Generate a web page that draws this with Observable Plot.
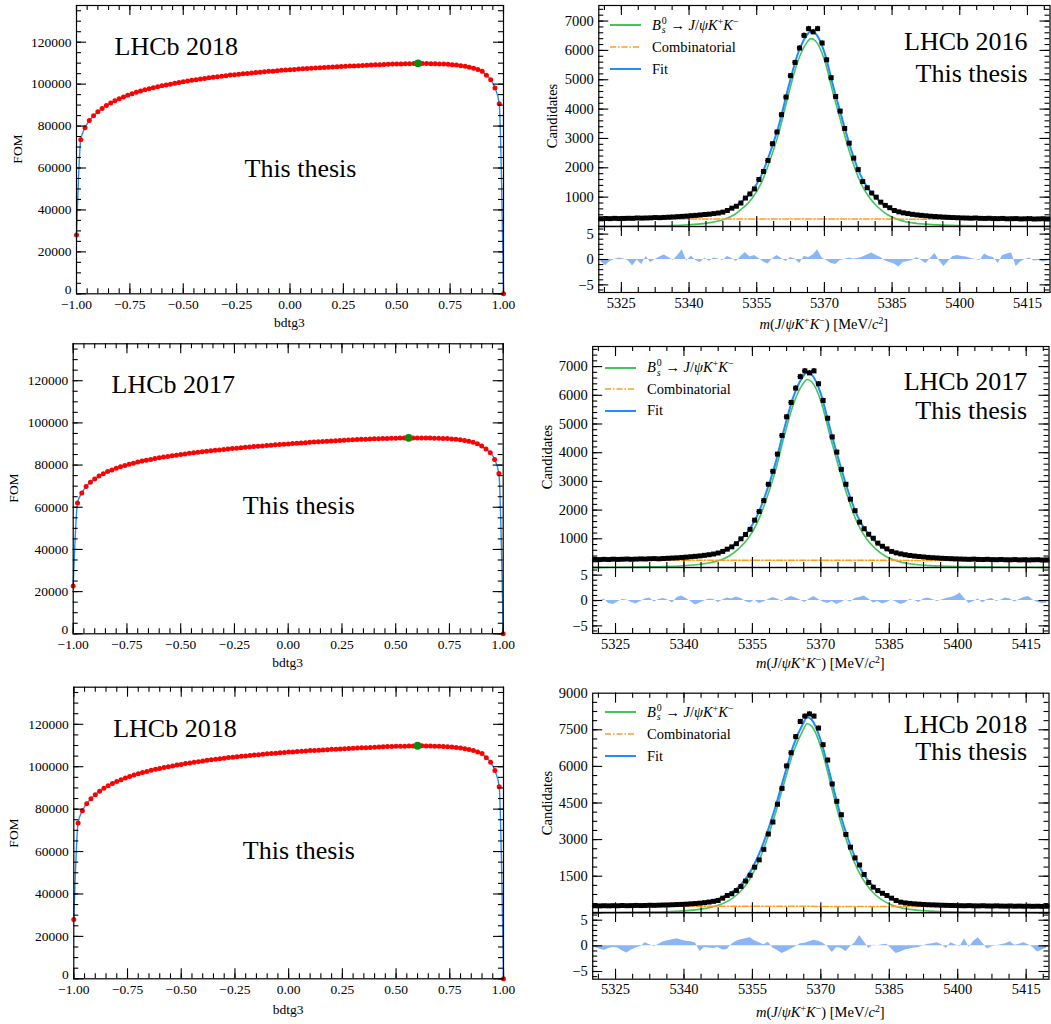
<!DOCTYPE html>
<html><head><meta charset="utf-8">
<script src="https://cdn.jsdelivr.net/npm/d3@7"></script>
<script src="https://cdn.jsdelivr.net/npm/@observablehq/plot@0.6"></script>
<style>
body{margin:0;background:#fff;}
#wrap{position:relative;width:1051px;height:1024px;overflow:hidden;background:#fff;font-family:"Liberation Serif",serif;color:#000;}
.box{position:absolute;}
.lab{position:absolute;white-space:nowrap;font-family:"Liberation Serif",serif;color:#000;line-height:1;}
.subsup{display:inline-block;font-size:0.68em;line-height:0.95;vertical-align:-0.32em;text-align:left;margin-left:1px;}
.subsup span{display:block;}
.sp{font-size:0.68em;vertical-align:0.5em;line-height:0;}
</style>
</head><body><div id="wrap"></div>
<script>
// ---------------- DATA ----------------
// BDT cut scan: cut values from -1.00 to 1.00 in steps of 0.02
const cutStart = -1.0, cutStep = 0.02;
const fom2018 = [28000,73500,79200,82600,84900,86800,88400,89800,91000,92100,
  93000,93900,94700,95400,96100,96700,97300,97800,98300,98800,
  99200,99600,100000,100400,100800,101100,101500,101800,102100,102400,
  102700,103000,103300,103500,103800,104000,104300,104500,104700,104900,
  105100,105300,105500,105700,105900,106100,106200,106400,106600,106700,
  106900,107000,107200,107300,107400,107600,107700,107800,107900,108000,
  108200,108300,108400,108500,108600,108700,108800,108900,109000,109100,
  109200,109300,109400,109500,109550,109600,109650,109700,109750,109800,
  109900,109850,109800,109750,109700,109650,109550,109450,109300,109100,
  108800,108500,108100,107600,107000,106200,104200,102100,98200,90600,0];
const fom2017 = [22700,62000,66800,69800,71800,73400,74800,75900,76900,77700,
  78500,79200,79800,80400,80900,81400,81900,82300,82700,83100,
  83500,83800,84100,84400,84700,85000,85300,85600,85800,86100,
  86300,86600,86800,87000,87200,87400,87600,87800,88000,88200,
  88400,88600,88800,88900,89100,89300,89400,89600,89700,89900,
  90000,90200,90300,90500,90600,90800,90900,91000,91200,91300,
  91400,91500,91600,91800,91900,92000,92100,92200,92300,92400,
  92450,92500,92600,92650,92700,92750,92800,92850,92900,92850,
  92850,92850,92800,92800,92750,92700,92650,92550,92400,92200,
  92000,91700,91300,90800,90100,89000,87600,85900,82700,76000,0];

// Mass fits: 100 bins of 1 MeV from 5320 to 5420
const massLow = 5320, massHigh = 5420, massBinWidth = 1;
const counts2016 = [265,272,268,278,270,275,280,278,290,285,290,295,305,300,310,318,325,335,345,355,
  370,380,395,410,420,440,460,490,545,625,690,800,970,1110,1280,1600,1875,2250,2820,3220,
  3810,4410,5140,5590,6080,6510,6740,6630,6740,6250,5680,5070,4430,3930,3340,2840,2330,1940,1530,1320,
  1140,1000,830,720,640,545,500,465,440,415,395,380,365,350,340,330,320,312,305,298,
  292,288,282,290,278,275,280,270,268,275,262,266,270,258,262,268,255,260,265,258];
const counts2017 = [280,275,285,278,290,282,288,295,285,292,300,296,305,310,302,315,322,330,338,350,
  362,375,390,405,425,445,470,505,560,640,720,830,1000,1150,1330,1650,1950,2330,2900,3350,
  3950,4600,5250,5750,6250,6650,6850,6780,6850,6400,5820,5200,4550,4020,3420,2900,2380,1980,1580,1350,
  1160,1020,850,740,650,560,510,475,445,420,400,382,368,352,342,332,322,315,308,300,
  296,290,285,292,282,278,285,275,272,280,270,268,276,265,270,262,268,272,260,265];
const counts2018 = [288,282,290,285,292,288,298,290,295,302,296,300,310,305,312,318,322,330,338,345,
  355,368,380,395,415,440,470,505,600,710,780,910,1080,1300,1540,1870,2170,2600,3230,3720,
  4450,5100,6020,6560,7220,7840,8060,8150,8060,7570,6890,6260,5280,4570,4020,3210,2690,2250,1960,1570,
  1240,1050,910,800,710,600,505,436,405,385,368,355,342,332,325,318,310,305,300,296,
  292,288,295,285,282,290,280,278,285,276,272,280,270,275,268,272,265,270,262,268];

// Signal component sampled at these masses
const signalMass = [5320,5324,5328,5332,5336,5338,5340,5342,5344,5346,5348,5350,5352,5354,5356,5358,5360,5362,5364,5366,5367,5368,5370,5372,5374,5376,5378,5380,5382,5384,5386,5388,5390,5392,5394,5396,5398,5400,5404,5408,5412,5416,5420];
const signal2016 = [5,8,13,20,32,44,60,82,115,170,255,400,640,960,1480,2280,3250,4480,5580,6240,6400,6330,5680,4500,3380,2330,1500,980,640,400,255,165,115,85,64,48,38,30,20,14,10,8,6];
const signal2017 = [6,9,14,22,34,46,62,85,120,175,260,410,660,1000,1540,2350,3350,4600,5700,6380,6550,6470,5800,4600,3450,2400,1550,1000,650,410,260,170,120,88,66,50,40,32,21,15,11,8,6];
const signal2018 = [10,14,20,30,45,60,80,110,160,230,340,520,800,1250,1950,2900,4050,5350,6600,7450,7750,7650,6800,5400,3950,2750,1800,1150,730,460,290,190,130,92,68,52,40,32,22,16,12,9,7];
// Combinatorial level at the two ends of the window
const comb2016 = [258, 248];
const comb2017 = [255, 245];
const comb2018 = [268, 258];
// Pulls per bin
const pull2016 = [-0.5,-1.2,-0.4,0.0,0.3,0.1,-0.2,-1.3,-0.1,-1.0,0.6,-0.6,0.0,0.5,0.9,0.4,-0.2,0.8,1.9,-0.3,
  0.7,-0.2,-0.6,0.3,-0.4,0.3,0.1,-0.2,0.6,0.2,-0.4,0.6,1.4,0.5,0.8,0.2,-0.5,-0.9,0.1,0.8,
  0.2,-0.4,0.4,0.1,-0.8,0.6,0.4,0.9,1.9,0.3,-0.2,-0.8,-1.0,-0.2,0.0,0.3,0.1,0.2,0.5,0.9,
  1.3,0.8,0.4,-0.3,-0.6,-0.9,-1.5,-0.6,-0.4,-0.2,0.4,-0.2,-0.8,0.2,1.2,-0.3,-1.4,-0.4,0.6,0.8,
  0.6,0.5,0.2,0.0,-0.2,1.1,0.6,0.4,-0.8,0.8,1.1,1.3,-1.4,-0.5,0.0,0.3,-0.3,-0.2,-0.5,-0.3];
const pull2017 = [-0.4,-0.2,0.3,-0.6,-0.8,-0.3,0.2,0.1,-0.4,-0.7,-0.2,0.3,0.5,-0.3,0.2,0.4,0.1,-0.5,0.6,0.9,
  0.4,-0.2,-0.9,-0.5,-0.1,0.3,0.2,-0.4,0.1,0.5,0.3,0.7,0.4,-0.2,-0.5,0.1,-0.6,-0.3,0.2,0.6,
  0.3,-0.2,0.4,0.8,0.5,0.1,-0.4,0.3,0.8,0.2,-0.3,-0.6,-0.2,-0.8,-0.4,0.1,-0.3,0.4,0.6,0.9,
  0.3,-0.5,-0.2,-0.7,-0.4,0.1,-0.3,-0.8,-0.5,0.2,0.0,-0.4,0.3,0.5,0.2,-0.2,0.1,0.4,0.6,0.9,
  1.5,0.4,-0.6,-0.2,0.3,-0.5,0.2,0.4,-0.2,0.1,0.5,0.3,-0.3,0.2,0.6,0.8,0.1,-0.4,-0.6,-0.5];
const pull2018 = [-0.3,-0.6,-0.9,-0.5,-0.3,-0.4,-1.0,-1.4,-0.8,-0.4,-0.2,0.6,0.2,-0.2,0.3,0.8,1.0,1.2,1.4,1.1,
  0.9,0.8,0.6,-1.1,-0.3,-0.4,-0.5,-0.3,-0.8,-0.7,0.3,0.9,1.2,1.4,1.6,1.0,0.6,0.2,0.7,-0.4,
  -0.9,-1.5,-1.1,-0.6,-0.2,0.4,0.5,0.8,1.1,0.9,0.5,-0.2,-1.3,-0.3,-0.5,-1.1,-0.2,0.6,2.0,0.8,
  -0.5,0.1,0.0,0.2,0.3,-0.6,-1.5,-1.2,-0.8,-0.6,-0.4,-0.3,0.0,0.3,0.4,0.6,0.2,-0.5,0.6,0.2,
  -0.2,1.4,-0.3,0.9,1.6,0.5,-0.6,-0.2,0.0,0.2,0.4,0.8,0.1,0.3,0.6,0.2,-0.3,-1.2,-0.8,-0.4];

// Tick labels
const fomXTicks = [-1, -0.75, -0.5, -0.25, 0, 0.25, 0.5, 0.75, 1];
const fomYTicks = [0, 20000, 40000, 60000, 80000, 100000, 120000];
const massXTicks = [5325, 5340, 5355, 5370, 5385, 5400, 5415];
const candTicks1000 = [1000, 2000, 3000, 4000, 5000, 6000, 7000];
const candTicks1500 = [1500, 3000, 4500, 6000, 7500, 9000];
const pullTicks = [-5, 0, 5];

// Texts
const legendLabels = [
  '<i>B</i><span class="subsup"><span>0</span><span><i>s</i></span></span> → <i>J</i>/<i>ψ</i><i>K</i><span class="sp">+</span><i>K</i><span class="sp">−</span>',
  'Combinatorial', 'Fit'];
const massAxisLabel = '<i>m</i>(<i>J</i>/<i>ψ</i><i>K</i><span class="sp">+</span><i>K</i><span class="sp">−</span>) [MeV/<i>c</i><span class="sp">2</span>]';

// ---------------- STYLE ----------------
const SERIF = '"Liberation Serif", serif';
const C_FOMLINE = "#2a8cf2", C_SIG = "#45c45a", C_COMB = "#ff9c22", C_FIT = "#1f8cff", C_PULL = "#8cb5f6";
const wrap = document.getElementById("wrap");

function place(node, x, y) {
  const d = document.createElement("div");
  d.className = "box"; d.style.left = x + "px"; d.style.top = y + "px";
  d.appendChild(node); wrap.appendChild(d);
}
function label(html, x, y, size, rotate) {
  const d = document.createElement("div");
  d.className = "lab"; d.innerHTML = html;
  d.style.left = x + "px"; d.style.top = y + "px"; d.style.fontSize = size + "px";
  d.style.transform = "translate(-50%,-50%)" + (rotate ? " rotate(-90deg)" : "");
  wrap.appendChild(d);
}
function within(arr, dom) { const lo = Math.min(...dom), hi = Math.max(...dom); return arr.filter(v => v >= lo - 1e-9 && v <= hi + 1e-9); }
function tickMarks(W, H, o) {
  const s = {stroke: "black", strokeWidth: 1.1};
  const m = [];
  const tx = (arr, len, where) => Plot.tickX(arr, {x: d => d, ...s, ...(where === "b" ? {insetTop: H - len} : {insetBottom: H - len})});
  const ty = (arr, len, where) => Plot.tickY(arr, {y: d => d, ...s, ...(where === "l" ? {insetRight: W - len} : {insetLeft: W - len})});
  if (o.bottom !== false) m.push(tx(o.xMaj, 10, "b"), tx(o.xMin, 5, "b"));
  if (o.top !== false) m.push(tx(o.xMaj, 10, "t"), tx(o.xMin, 5, "t"));
  m.push(ty(o.yMaj, 10, "l"), ty(o.yMin, 5, "l"), ty(o.yMaj, 10, "r"), ty(o.yMin, 5, "r"));
  return m;
}
function margins(box, fr) {
  return {width: box.w, height: box.h, marginLeft: fr.x0 - box.x, marginRight: box.x + box.w - fr.x1,
          marginTop: fr.y0 - box.y, marginBottom: box.y + box.h - fr.y1};
}
const plotStyle = {fontFamily: SERIF, fontSize: "13px", overflow: "visible", background: "none", color: "black"};

// ---------------- FOM PANELS ----------------
function fomPanel(values, box, fr, title, t) {
  const data = values.map((v, i) => ({cut: cutStart + i * cutStep, fom: v}));
  const best = d3.greatest(data, d => d.fom);
  const xDom = [-1, 1], yDom = [0, 137500];
  const W = fr.x1 - fr.x0, H = fr.y1 - fr.y0;
  const svg = Plot.plot({
    ...margins(box, fr),
    x: {domain: xDom, axis: null}, y: {domain: yDom, axis: null},
    style: plotStyle,
    marks: [
      Plot.line(data, {x: "cut", y: "fom", stroke: C_FOMLINE, strokeWidth: 1.4, curve: "monotone-x"}),
      Plot.dot(data, {x: "cut", y: "fom", r: 2.5, fill: "#ff0000"}),
      Plot.dot([best], {x: "cut", y: "fom", r: 3.9, fill: "#0d8a0d"}),
      ...tickMarks(W, H, {xMaj: fomXTicks, xMin: within(d3.range(-1, 1.0001, 0.05), xDom),
                          yMaj: fomYTicks, yMin: within(d3.range(0, 137500, 5000), yDom)}),
      Plot.frame({stroke: "black", strokeWidth: 1.2}),
      Plot.text(fomXTicks, {x: d => d, text: d => d3.format(".2f")(d), frameAnchor: "bottom", lineAnchor: "top", dy: 6, fontSize: 13.5}),
      Plot.text(fomYTicks.filter(v => v !== 0), {y: d => d, text: d => String(d), frameAnchor: "left", textAnchor: "end", dx: -5, fontSize: 13.5}),
      Plot.text(fomYTicks.filter(v => v === 0), {y: d => d, text: d => String(d), frameAnchor: "left", textAnchor: "end", dx: -5, dy: -4, fontSize: 13.5}),
      Plot.text([title], {text: d => d, frameAnchor: "top-left", textAnchor: "start", lineAnchor: "top", dx: t.tx, dy: t.ty, fontSize: 26}),
      Plot.text(["This thesis"], {text: d => d, frameAnchor: "top-left", textAnchor: "start", lineAnchor: "top", dx: t.sx, dy: t.sy, fontSize: 26})
    ]
  });
  place(svg, box.x, box.y);
  label("FOM", t.fomX, (fr.y0 + fr.y1) / 2, 13.5, true);
  label("bdtg3", (fr.x0 + fr.x1) / 2, t.xlabY, 13.5, false);
}

fomPanel(fom2018, {x: 0, y: 0, w: 520, h: 335}, {x0: 76, x1: 503, y0: 5, y1: 293.3}, "LHCb 2018",
  {tx: 38, ty: 31, sx: 168, sy: 153, fomX: 18, xlabY: 323});
fomPanel(fom2017, {x: 0, y: 335, w: 520, h: 345}, {x0: 72.7, x1: 502.7, y0: 343.3, y1: 633.3}, "LHCb 2017",
  {tx: 38.3, ty: 30.4, sx: 169.6, sy: 152, fomX: 14, xlabY: 663});
fomPanel(fom2018, {x: 0, y: 680, w: 520, h: 344}, {x0: 73.3, x1: 503, y0: 686.7, y1: 978.3}, "LHCb 2018",
  {tx: 39.4, ty: 31.3, sx: 169, sy: 153, fomX: 14, xlabY: 1010});

// ---------------- MASS PANELS ----------------
function massPanel(c) {
  const bins = c.counts.map((n, i) => ({m: massLow + (i + 0.5) * massBinWidth, n, e: Math.sqrt(n)}));
  const combAt = m => c.comb[0] + (c.comb[1] - c.comb[0]) * (m - massLow) / (massHigh - massLow);
  const curve = signalMass.map((m, i) => ({m, sig: c.signal[i], fit: c.signal[i] + combAt(m)}));
  const combLine = [{m: massLow, v: c.comb[0]}, {m: massHigh, v: c.comb[1]}];
  const xDom = [massLow, massHigh], yDom = [0, c.yMax];
  const fr = c.fr, W = fr.x1 - fr.x0, H = fr.y1 - fr.y0;
  const xMin = within(d3.range(5321.25, 5420, 3.75), xDom);
  const main = Plot.plot({
    ...margins(c.box, fr),
    x: {domain: xDom, axis: null}, y: {domain: yDom, axis: null},
    style: plotStyle,
    marks: [
      Plot.line(curve, {x: "m", y: "sig", stroke: C_SIG, strokeWidth: 1.6, curve: "monotone-x"}),
      Plot.line(combLine, {x: "m", y: "v", stroke: C_COMB, strokeWidth: 1.5, strokeDasharray: "6,2,1.5,2"}),
      Plot.line(curve, {x: "m", y: "fit", stroke: C_FIT, strokeWidth: 2, curve: "monotone-x"}),
      Plot.ruleX(bins, {x: "m", y1: d => d.n - d.e, y2: d => d.n + d.e, stroke: "black", strokeWidth: 1.3}),
      Plot.ruleY(bins, {y: "n", x1: d => d.m - massBinWidth / 2, x2: d => d.m + massBinWidth / 2, stroke: "black", strokeWidth: 1.3}),
      Plot.dot(bins, {x: "m", y: "n", symbol: "square", r: 2.8, fill: "black"}),
      ...tickMarks(W, H, {xMaj: massXTicks, xMin, yMaj: within(d3.range(0, c.yMax, c.yMajStep), yDom),
                          yMin: within(d3.range(0, c.yMax, c.yMinStep), yDom)}),
      Plot.frame({stroke: "black", strokeWidth: 1.2}),
      Plot.text(c.yTicks, {y: d => d, text: d => String(d), frameAnchor: "left", textAnchor: "end", dx: -5, fontSize: 14.5}),
      Plot.text([c.title + "\nThis thesis"], {text: d => d, frameAnchor: "top-right", textAnchor: "end", lineAnchor: "top",
        dx: c.tdx, dy: c.tdy, fontSize: 26, lineHeight: c.tlh})
    ]
  });
  place(main, c.box.x, c.box.y);

  const pdata = c.pull.map((p, i) => ({m: massLow + (i + 0.5) * massBinWidth, p}));
  const pfr = c.pfr, pW = pfr.x1 - pfr.x0, pH = pfr.y1 - pfr.y0;
  const pDom = [-6.5, 6.5];
  const pull = Plot.plot({
    ...margins(c.pbox, pfr),
    x: {domain: xDom, axis: null}, y: {domain: pDom, axis: null},
    style: plotStyle,
    marks: [
      Plot.areaY(pdata, {x: "m", y: "p", fill: C_PULL}),
      ...tickMarks(pW, pH, {xMaj: massXTicks, xMin, yMaj: pullTicks, yMin: d3.range(-6, 7, 1)}),
      Plot.frame({stroke: "black", strokeWidth: 1.2}),
      Plot.text(massXTicks, {x: d => d, text: d => String(d), frameAnchor: "bottom", lineAnchor: "top", dy: 5, fontSize: 14.5}),
      Plot.text(pullTicks, {y: d => d, text: d => d3.format("d")(d), frameAnchor: "left", textAnchor: "end", dx: -5, fontSize: 14.5})
    ]
  });
  place(pull, c.pbox.x, c.pbox.y);

  label("Candidates", c.candX, (fr.y0 + fr.y1) / 2, 14.5, true);
  label(massAxisLabel, (fr.x0 + fr.x1) / 2, c.xlabY, 14.5, false);
  // legend
  const styles = [
    {stroke: C_SIG, w: 2, dash: ""},
    {stroke: C_COMB, w: 1.5, dash: "6,2,1.5,2"},
    {stroke: C_FIT, w: 2, dash: ""}];
  legendLabels.forEach((lab, k) => {
    const row = document.createElement("div");
    row.className = "lab";
    row.style.left = c.leg.x + "px"; row.style.top = (c.leg.y + k * c.leg.step - 10) + "px";
    row.style.height = "20px"; row.style.display = "flex"; row.style.alignItems = "center";
    row.style.fontSize = "14.5px";
    const st = styles[k];
    row.innerHTML = `<svg width="31" height="20" style="margin-right:${c.leg.gap}px;flex:none"><line x1="0" x2="31" y1="10" y2="10" stroke="${st.stroke}" stroke-width="${st.w}" ${st.dash ? `stroke-dasharray="${st.dash}"` : ""}/></svg><span>${lab}</span>`;
    wrap.appendChild(row);
  });
}

massPanel({counts: counts2016, signal: signal2016, comb: comb2016, pull: pull2016,
  yMax: 7530, yMajStep: 1000, yMinStep: 200, yTicks: candTicks1000,
  box: {x: 530, y: 0, w: 521, h: 226}, fr: {x0: 598.3, x1: 1049.5, y0: 5, y1: 226},
  pbox: {x: 530, y: 226, w: 521, h: 110}, pfr: {x0: 598.3, x1: 1049.5, y0: 226, y1: 292},
  title: "LHCb 2016", tdx: -22.5, tdy: 22, tlh: 1.22, candX: 551.7, xlabY: 324,
  leg: {x: 610, y: 25, step: 22, gap: 11}});
massPanel({counts: counts2017, signal: signal2017, comb: comb2017, pull: pull2017,
  yMax: 7700, yMajStep: 1000, yMinStep: 200, yTicks: candTicks1000,
  box: {x: 530, y: 340, w: 521, h: 227}, fr: {x0: 592.2, x1: 1048.5, y0: 346, y1: 567},
  pbox: {x: 530, y: 567, w: 521, h: 110}, pfr: {x0: 592.2, x1: 1048.5, y0: 567, y1: 633},
  title: "LHCb 2017", tdx: -21.8, tdy: 24, tlh: 1.08, candX: 547, xlabY: 663,
  leg: {x: 605, y: 367.5, step: 21.5, gap: 11}});
massPanel({counts: counts2018, signal: signal2018, comb: comb2018, pull: pull2018,
  yMax: 9000, yMajStep: 1500, yMinStep: 375, yTicks: candTicks1500,
  box: {x: 530, y: 680, w: 521, h: 232.3}, fr: {x0: 592.2, x1: 1048.5, y0: 692.7, y1: 912.3},
  pbox: {x: 530, y: 912.3, w: 521, h: 111.7}, pfr: {x0: 592.2, x1: 1048.5, y0: 912.3, y1: 979},
  title: "LHCb 2018", tdx: -21.8, tdy: 21, tlh: 1.04, candX: 546.7, xlabY: 1012,
  leg: {x: 605, y: 712, step: 22, gap: 11}});
</script>
</body></html>
